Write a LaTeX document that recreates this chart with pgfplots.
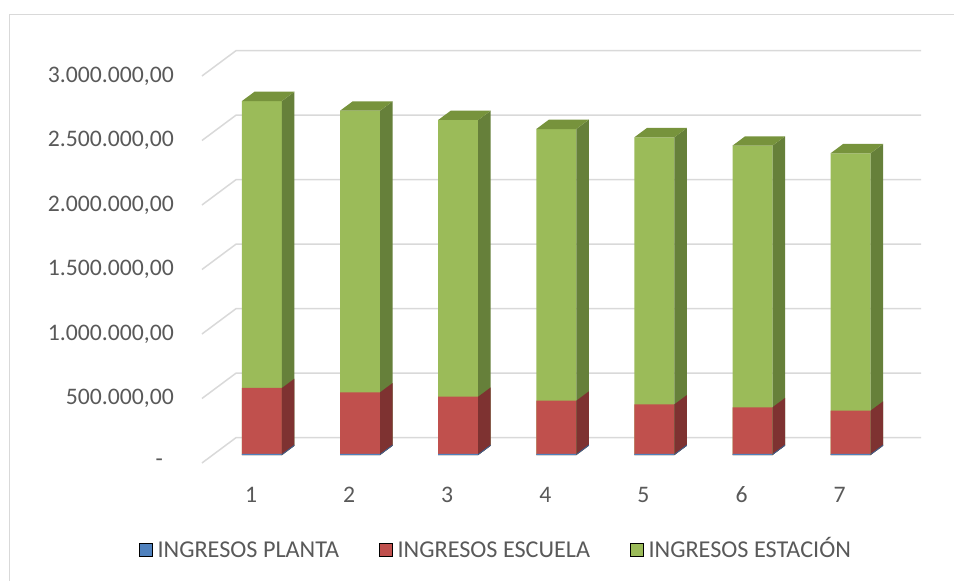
\documentclass[border=0pt]{standalone}
\usepackage{fontspec}
\setmainfont{Carlito}
\usepackage{pgfplots}
\pgfplotsset{compat=1.18}
\usepackage{pgfplotstable}

\definecolor{cblue}{HTML}{4F81BD}
\definecolor{cblueside}{HTML}{3A6090}
\definecolor{cred}{HTML}{C0504D}
\definecolor{credside}{HTML}{7E3231}
\definecolor{cgreen}{HTML}{9BBB59}
\definecolor{cgreenside}{HTML}{66803A}
\definecolor{cgreentop}{HTML}{77933C}
\definecolor{gridc}{HTML}{D9D9D9}
\definecolor{txt}{HTML}{595959}

% income per year (1..7)
\pgfplotstableread{
cat planta escuela estacion
1 8000 512000 2224000
2 8000 478000 2183000
3 8000 444000 2145000
4 8000 413000 2106000
5 8000 385000 2070000
6 8000 362000 2028000
7 8000 336000 1995000
}\datatable

% unit square, mapped onto the side and top faces of each bar
\pgfplotstableread{
u v
0 0
1 0
1 1
0 1
}\unitsq

% one gridline: front edge of the side wall, then along the back wall
\pgfplotstableread{
gx gy
0.388 -62000
0.7345 134100
7.72 134100
}\gridpath

\newcommand{\lbl}{\fontsize{23.7}{28}\selectfont}
\newcommand{\lgd}{\fontsize{24.2}{28}\selectfont}

\begin{document}
\begin{tikzpicture}
\useasboundingbox (0pt,0pt) rectangle (954pt,581pt);
% chart frame
\draw[gridc, line width=1.5pt] (9.5pt,-5pt) -- (9.5pt,566.5pt) -- (960pt,566.5pt);
\begin{axis}[
  at={(174pt,94.3pt)}, anchor=south west,
  scale only axis, width=774.7pt, height=479.97pt,
  xmin=0.103, xmax=8, ymin=-245700, ymax=3475000,
  clip=false,
  scaled y ticks=false, scaled x ticks=false,
  axis line style={draw=none},
  major tick length=0pt,
  tick style={draw=none},
  xtick={0.888,1.888,2.888,3.888,4.888,5.888,6.888},
  xticklabels={1,2,3,4,5,6,7},
  ytick={-62000,438000,938000,1438000,1938000,2438000,2938000},
  yticklabels={{-\hspace*{11pt}},{500.000,00},{1.000.000,00},{1.500.000,00},{2.000.000,00},{2.500.000,00},{3.000.000,00}},
  ticklabel style={font=\lbl, text=txt, inner sep=0pt},
  legend columns=-1,
  legend style={draw=none, fill=none, at={(-0.0452,-0.1277)}, anchor=west,
    inner sep=0pt, font=\lgd, text=txt,
    cells={anchor=base west, inner sep=0pt},
    /tikz/every even column/.append style={column sep=38pt},
    /tikz/every odd column/.append style={column sep=3pt}},
  legend image code/.code={\fill[#1] (0pt,1pt) rectangle (13pt,14pt);},
]
% gridlines on side and back walls
\pgfplotsinvokeforeach{0,500000,1000000,1500000,2000000,2500000,3000000}{
  \addplot[gridc, line width=1.5pt, forget plot] table[x=gx, y expr=\thisrow{gy}+#1] {\gridpath};
}

% front faces, drawn from the full stack down to the lowest segment
\addplot[ybar, bar width=40pt, bar shift=0pt, fill=cgreen, draw=none, forget plot]
  table[x=cat, y expr=\thisrow{planta}+\thisrow{escuela}+\thisrow{estacion}] {\datatable};
\addplot[ybar, bar width=40pt, bar shift=0pt, fill=cred, draw=none, forget plot]
  table[x=cat, y expr=\thisrow{planta}+\thisrow{escuela}] {\datatable};
\addplot[ybar, bar width=40pt, bar shift=0pt, fill=cblue, draw=none, forget plot]
  table[x=cat, y=planta] {\datatable};

% side and top faces of every bar
\pgfplotsinvokeforeach{0,...,6}{
  \pgfplotstablegetelem{#1}{cat}\of\datatable\edef\cx{\pgfplotsretval}
  \pgfplotstablegetelem{#1}{planta}\of\datatable\edef\pa{\pgfplotsretval}
  \pgfplotstablegetelem{#1}{escuela}\of\datatable\edef\es{\pgfplotsretval}
  \pgfplotstablegetelem{#1}{estacion}\of\datatable\edef\et{\pgfplotsretval}
  \addplot[fill=cgreenside, draw=none, forget plot]
    table[x expr=\cx+0.2039+\thisrow{u}*0.1274,
          y expr=\thisrow{v}*(\pa+\es+\et)+\thisrow{u}*72000] {\unitsq};
  \addplot[fill=credside, draw=none, forget plot]
    table[x expr=\cx+0.2039+\thisrow{u}*0.1274,
          y expr=\thisrow{v}*(\pa+\es)+\thisrow{u}*72000] {\unitsq};
  \addplot[fill=cblueside, draw=none, forget plot]
    table[x expr=\cx+0.2039+\thisrow{u}*0.1274,
          y expr=\thisrow{v}*\pa+\thisrow{u}*72000] {\unitsq};
  \addplot[fill=cgreentop, draw=none, forget plot]
    table[x expr=\cx-0.2039+\thisrow{u}*0.4077+\thisrow{v}*0.1274,
          y expr=\pa+\es+\et+\thisrow{v}*72000] {\unitsq};
}

\addlegendimage{fill=cblue}
\addlegendentry{INGRESOS PLANTA}
\addlegendimage{fill=cred}
\addlegendentry{INGRESOS ESCUELA}
\addlegendimage{fill=cgreen}
\addlegendentry{INGRESOS ESTACIÓN}
\end{axis}
\end{tikzpicture}
\end{document}
